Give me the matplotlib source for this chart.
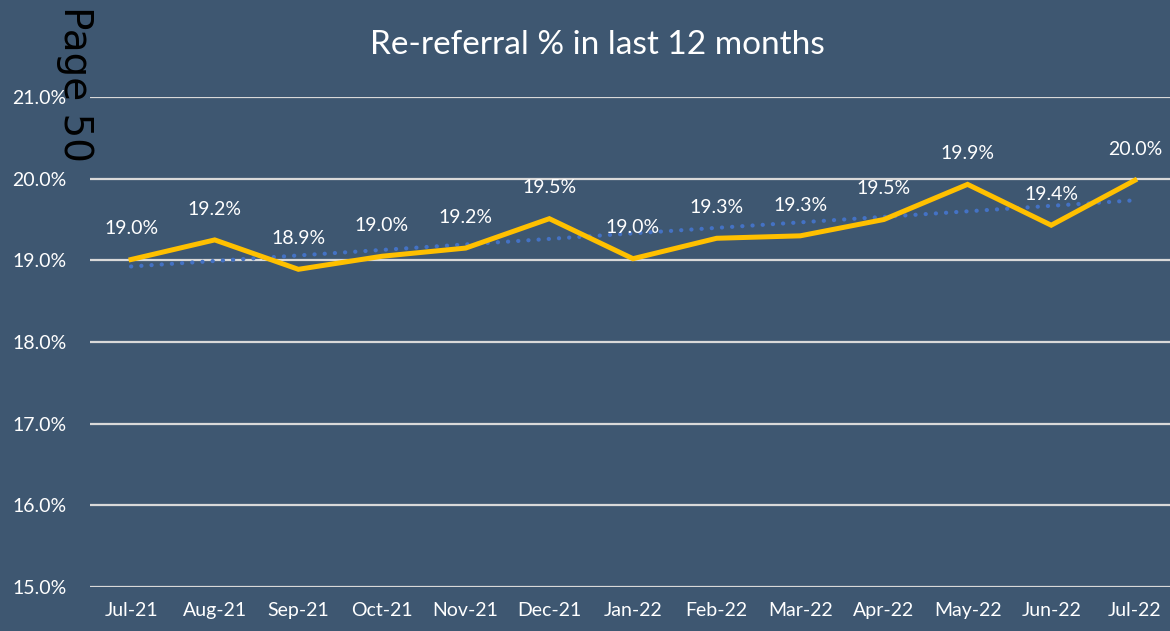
import numpy as np
import matplotlib.pyplot as plt
from matplotlib.ticker import FuncFormatter

# Monthly re-referral rate (%)
months = ['Jul-21', 'Aug-21', 'Sep-21', 'Oct-21', 'Nov-21', 'Dec-21', 'Jan-22',
          'Feb-22', 'Mar-22', 'Apr-22', 'May-22', 'Jun-22', 'Jul-22']
rate = [19.01, 19.25, 18.89, 19.05, 19.15, 19.51, 19.02,
        19.27, 19.30, 19.50, 19.93, 19.43, 19.98]
labels = ['19.0%', '19.2%', '18.9%', '19.0%', '19.2%', '19.5%', '19.0%',
          '19.3%', '19.3%', '19.5%', '19.9%', '19.4%', '20.0%']

bg = '#3E5771'
plt.rcParams['font.family'] = ['Lato', 'DejaVu Sans']

fig = plt.figure(figsize=(11.7, 6.31), dpi=100, facecolor=bg)
ax = fig.add_axes([0.077, 0.0697, 0.923, 0.7766], facecolor=bg)

x = np.arange(len(months))

# linear trendline
k, b = np.polyfit(x, rate, 1)
ax.plot(x, k * x + b, color='#4472C4', linewidth=3, linestyle=(0, (0.05, 2.4)),
        dash_capstyle='round', zorder=3)

ax.plot(x, rate, color='#FFC000', linewidth=3.6, solid_joinstyle='miter', zorder=4)

for xi, yi, lab in zip(x, rate, labels):
    ax.annotate(lab, (xi, yi), xytext=(0, 16), textcoords='offset points',
                ha='center', va='bottom', color='white', fontsize=14, zorder=5)

ax.set_ylim(15, 21)
ax.set_xlim(-0.49, 12.42)
ax.set_yticks(np.arange(15, 21.5, 1))
ax.yaxis.set_major_formatter(FuncFormatter(lambda v, p: f'{v:.1f}%'))
ax.set_xticks(x)
ax.set_xticklabels(months)
ax.grid(axis='y', color='#D9D9D9', linewidth=1.6)
ax.set_axisbelow(True)
ax.tick_params(colors='white', labelsize=14, length=0)
ax.tick_params(axis='y', pad=17)
ax.tick_params(axis='x', pad=11)
for s in ax.spines.values():
    s.set_visible(False)

fig.text(0.511, 0.928, 'Re-referral % in last 12 months', ha='center', va='center',
         color='white', fontsize=24)
fig.text(0.064, 0.99, 'Page 50', rotation=-90, ha='center', va='top',
         color='black', fontsize=28, family=['DejaVu Sans'])

fig.savefig('out.png', dpi=100, facecolor=bg)
